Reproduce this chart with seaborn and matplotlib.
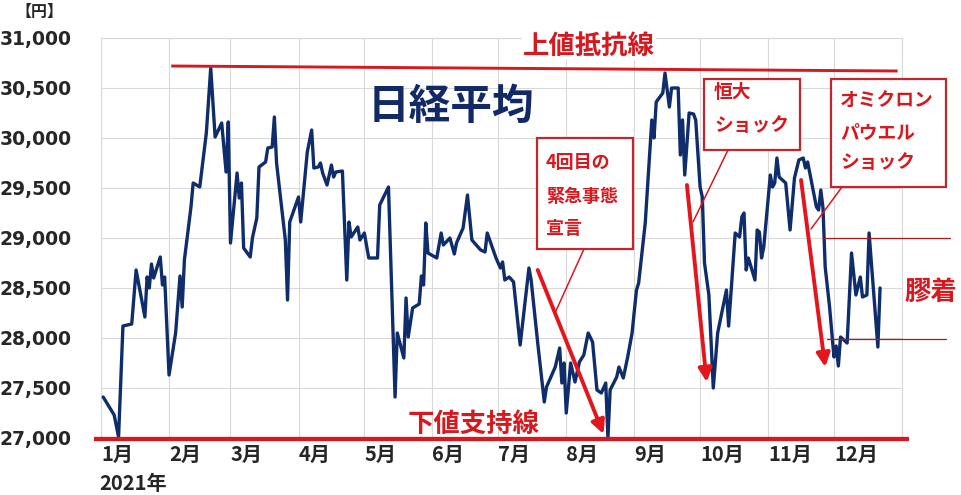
import matplotlib

matplotlib.use("Agg")
import matplotlib.dates as mdates
import matplotlib.pyplot as plt
import pandas as pd
import seaborn as sns
from matplotlib.lines import Line2D
from matplotlib.patches import Rectangle

W, H = 962, 495

# 日経平均 2021年 (チャートから読み取った終値の推定値)
dates = [
    "2021-01-02", "2021-01-07", "2021-01-09", "2021-01-11", "2021-01-15", "2021-01-17", "2021-01-21",
    "2021-01-22", "2021-01-23", "2021-01-24", "2021-01-25", "2021-01-28", "2021-01-29", "2021-01-30",
    "2021-02-01", "2021-02-04", "2021-02-06", "2021-02-07", "2021-02-08", "2021-02-11", "2021-02-12",
    "2021-02-15", "2021-02-18", "2021-02-20", "2021-02-22", "2021-02-25", "2021-02-27", "2021-02-28",
    "2021-03-01", "2021-03-04", "2021-03-05", "2021-03-06", "2021-03-07", "2021-03-10", "2021-03-11",
    "2021-03-13", "2021-03-14", "2021-03-17", "2021-03-18", "2021-03-20", "2021-03-21", "2021-03-22",
    "2021-03-26", "2021-03-27", "2021-03-28",
    "2021-04-01", "2021-04-02", "2021-04-05", "2021-04-07", "2021-04-08", "2021-04-10", "2021-04-11",
    "2021-04-12", "2021-04-14", "2021-04-16", "2021-04-17", "2021-04-18", "2021-04-21", "2021-04-23",
    "2021-04-24", "2021-04-25", "2021-04-28", "2021-04-29",
    "2021-05-01", "2021-05-03", "2021-05-07", "2021-05-08", "2021-05-12", "2021-05-15", "2021-05-16",
    "2021-05-19", "2021-05-20", "2021-05-21", "2021-05-23", "2021-05-26", "2021-05-27", "2021-05-28",
    "2021-05-29", "2021-05-30",
    "2021-06-03", "2021-06-05", "2021-06-06", "2021-06-09", "2021-06-11", "2021-06-12", "2021-06-15",
    "2021-06-17", "2021-06-19", "2021-06-23", "2021-06-25", "2021-06-26", "2021-06-30",
    "2021-07-02", "2021-07-03", "2021-07-04", "2021-07-06", "2021-07-08", "2021-07-11", "2021-07-15",
    "2021-07-16", "2021-07-19", "2021-07-22", "2021-07-23", "2021-07-27", "2021-07-29", "2021-07-30",
    "2021-07-31",
    "2021-08-01", "2021-08-03", "2021-08-05", "2021-08-07", "2021-08-09", "2021-08-11", "2021-08-13",
    "2021-08-15", "2021-08-17", "2021-08-19", "2021-08-20", "2021-08-21", "2021-08-24", "2021-08-25",
    "2021-08-27", "2021-08-29", "2021-08-31",
    "2021-09-02", "2021-09-03", "2021-09-06", "2021-09-09", "2021-09-10", "2021-09-11", "2021-09-14",
    "2021-09-15", "2021-09-17", "2021-09-18", "2021-09-21", "2021-09-22", "2021-09-23", "2021-09-24",
    "2021-09-26", "2021-09-28", "2021-09-29",
    "2021-10-01", "2021-10-02", "2021-10-03", "2021-10-05", "2021-10-07", "2021-10-09", "2021-10-13",
    "2021-10-14", "2021-10-17", "2021-10-19", "2021-10-20", "2021-10-21", "2021-10-22", "2021-10-23",
    "2021-10-26", "2021-10-27", "2021-10-28", "2021-10-29", "2021-10-30",
    "2021-11-02", "2021-11-03", "2021-11-04", "2021-11-05", "2021-11-06", "2021-11-09", "2021-11-11",
    "2021-11-13", "2021-11-15", "2021-11-17", "2021-11-18", "2021-11-19", "2021-11-23", "2021-11-24",
    "2021-11-25", "2021-11-26", "2021-11-27", "2021-11-29",
    "2021-12-01", "2021-12-02", "2021-12-03", "2021-12-04", "2021-12-07", "2021-12-09", "2021-12-11",
    "2021-12-13", "2021-12-14", "2021-12-16", "2021-12-17", "2021-12-19", "2021-12-21", "2021-12-22",
]
values = [
    27410, 27230, 27010, 28120, 28140, 28680, 28210, 28610, 28500, 28740, 28600, 28810, 28530, 28610,
    27630, 28050, 28620, 28310, 28780, 29310, 29550, 29510, 30050, 30700, 30010, 30150, 29660, 30160,
    28950, 29650, 29400, 29550, 28900, 28810, 29000, 29200, 29710, 29760, 29900, 29910, 30210, 29750,
    28980, 28380, 29160,
    29410, 29160, 29860, 30080, 29700, 29710, 29750, 29650, 29530, 29730, 29610, 29660, 29670, 28580,
    29160, 29010, 29110, 28980,
    29050, 28800, 28800, 29330, 29510, 27410, 28050, 27800, 28400, 28010, 28300, 28340, 28620, 28530,
    29150, 28850,
    28800, 29050, 28930, 29000, 28840, 28950, 29100, 29430, 28980, 28880, 28860, 29050, 28800,
    28700, 28760, 28580, 28610, 28560, 27930, 28700, 28580, 27950, 27360, 27510, 27710, 27900, 27550,
    27750,
    27250, 27750, 27560, 27760, 27830, 28050, 27960, 27480, 27450, 27550, 27000, 27480, 27610, 27710,
    27600, 27810, 28050,
    28480, 28550, 29150, 30180, 30000, 30360, 30450, 30650, 30310, 30500, 30500, 29830, 30180, 29630,
    30250, 30240, 30180,
    29510, 29410, 28750, 28430, 27500, 28050, 28480, 28120, 29050, 29010, 29210, 29250, 28680, 28800,
    28580, 29080, 29060, 28800, 28910,
    29630, 29510, 29550, 29800, 29610, 29550, 29080, 29600, 29780, 29800, 29700, 29760, 29310, 29280,
    29480, 29300, 28710, 28310,
    27810, 27920, 27720, 28010, 27950, 28850, 28430, 28610, 28410, 28430, 29050, 28480, 27910, 28500,
]

month_labels = ["1月", "2月", "3月", "4月", "5月", "6月", "7月", "8月", "9月", "10月", "11月", "12月"]
y_ticks = [27000, 27500, 28000, 28500, 29000, 29500, 30000, 30500, 31000]

# 上値抵抗線・下値支持線・膠着レンジ
resistance_dates = ["2021-02-02", "2021-12-30"]
resistance_values = [30720, 30670]
support_dates = ["2020-12-29", "2022-01-04"]
support_values = [26990, 26990]
range_top_dates = ["2021-11-26", "2022-01-23"]
range_top_values = [29000, 29000]
range_bottom_dates = ["2021-11-28", "2022-01-21"]
range_bottom_values = [27990, 27990]

# 下落を示す矢印 (始点, 終点)
drop_arrows = [
    (("2021-07-19", 28680), ("2021-08-18", 27040)),
    (("2021-09-25", 29530), ("2021-10-04", 27560)),
    (("2021-11-16", 29580), ("2021-11-27", 27710)),
]

NAVY = "#0f2c6b"
RED = "#d7191f"
ARROW_RED = "#e3161d"
BOX_RED = "#c1272d"
GRID = "#d9d9d9"


def to_num(d):
    return mdates.date2num(pd.Timestamp(d))


def px_text(x, y, s, **kw):
    """ピクセル座標 (左上原点) でテキストを配置する。"""
    return fig.text(x / W, 1 - y / H, s, **kw)


def px_box(x0, y0, x1, y1):
    fig.add_artist(Rectangle((x0 / W, 1 - y1 / H), (x1 - x0) / W, (y1 - y0) / H,
                             transform=fig.transFigure, facecolor="white",
                             edgecolor=BOX_RED, linewidth=1.6, zorder=5))


def px_line(x0, y0, x1, y1):
    fig.add_artist(Line2D([x0 / W, x1 / W], [1 - y0 / H, 1 - y1 / H],
                          transform=fig.transFigure, color=RED, linewidth=1.1, zorder=5))


sns.set_style("white")
plt.rcParams["font.family"] = ["Noto Sans CJK JP", "DejaVu Sans"]

fig = plt.figure(figsize=(W / 100, H / 100), dpi=100)
ax = fig.add_axes([101 / W, 1 - 438 / H, 801 / W, 400 / H])

df = pd.DataFrame({"date": pd.to_datetime(dates), "value": values})
sns.lineplot(data=df, x="date", y="value", ax=ax, color=NAVY, linewidth=2.4,
             estimator=None, sort=False, zorder=3)

ax.set_xlim(pd.Timestamp("2021-01-01"), pd.Timestamp("2022-01-01"))
ax.set_ylim(27000, 31000)
ax.set_xticks(pd.date_range("2021-01-01", "2022-01-01", freq="MS"))
ax.set_xticklabels(month_labels + [""], ha="left", fontsize=14.5, fontweight="bold")
ax.set_yticks(y_ticks)
ax.set_yticklabels([f"{v:,}" for v in y_ticks], family="DejaVu Sans", fontsize=13.5, fontweight="bold")
ax.tick_params(axis="y", length=0, pad=21)
ax.tick_params(axis="x", length=0, pad=4)
ax.set_xlabel("")
ax.set_ylabel("")
ax.set_axisbelow(True)
ax.grid(True, color=GRID, linewidth=0.8)
for spine in ax.spines.values():
    spine.set_color(GRID)
    spine.set_linewidth(0.8)

# 抵抗線・支持線・膠着レンジ
ax.plot([to_num(d) for d in resistance_dates], resistance_values, color=RED, lw=2.1,
        solid_capstyle="butt", zorder=4, clip_on=False)
ax.plot([to_num(d) for d in support_dates], support_values, color=RED, lw=3.1,
        solid_capstyle="butt", zorder=4, clip_on=False)
ax.plot([to_num(d) for d in range_top_dates], range_top_values, color="#b8141a", lw=0.9,
        zorder=4, clip_on=False)
ax.plot([to_num(d) for d in range_bottom_dates], range_bottom_values, color="#b8141a", lw=0.9,
        zorder=4, clip_on=False)

for (d0, v0), (d1, v1) in drop_arrows:
    ax.annotate("", xy=(to_num(d1), v1), xytext=(to_num(d0), v0),
                arrowprops=dict(arrowstyle="-|>", color=ARROW_RED, lw=2.8,
                                mutation_scale=20, shrinkA=0, shrinkB=0),
                zorder=6)

# テキスト
px_text(39, 12, "【円】", fontsize=11.5, fontweight="bold", ha="center", va="center")
px_text(451, 107, "日経平均", fontsize=30, fontweight="bold", color="#112a66", ha="center", va="center")
px_text(589, 46, "上値抵抗線", fontsize=19, fontweight="bold", color=RED, ha="center", va="center",
        bbox=dict(facecolor="white", edgecolor="none", pad=0.5))
px_text(474, 424, "下値支持線", fontsize=19, fontweight="bold", color=RED, ha="center", va="center")
px_text(931, 293, "膠着", fontsize=19, fontweight="bold", color=RED, ha="center", va="center")
px_text(99, 483, "2021年", fontsize=14.5, fontweight="bold", ha="left", va="center")

# 吹き出し
px_box(537, 138, 633, 249)
px_line(584, 249, 555, 313)
for s, y in [("4回目の", 162), ("緊急事態", 197), ("宣言", 228)]:
    px_text(546, y, s, fontsize=13, fontweight="bold", color=RED, ha="left", va="center", zorder=6)

px_box(704, 79, 800, 150)
px_line(728, 150, 693, 222)
for s, y in [("恒大", 93), ("ショック", 125)]:
    px_text(714, y, s, fontsize=13.5, fontweight="bold", color=RED, ha="left", va="center", zorder=6)

px_box(831, 79, 946, 187)
px_line(842, 187, 811, 229)
for s, y in [("オミクロン", 100), ("パウエル", 133), ("ショック", 163)]:
    px_text(840, y, s, fontsize=13.5, fontweight="bold", color=RED, ha="left", va="center", zorder=6)

fig.savefig("out.png", dpi=100, facecolor="white")
